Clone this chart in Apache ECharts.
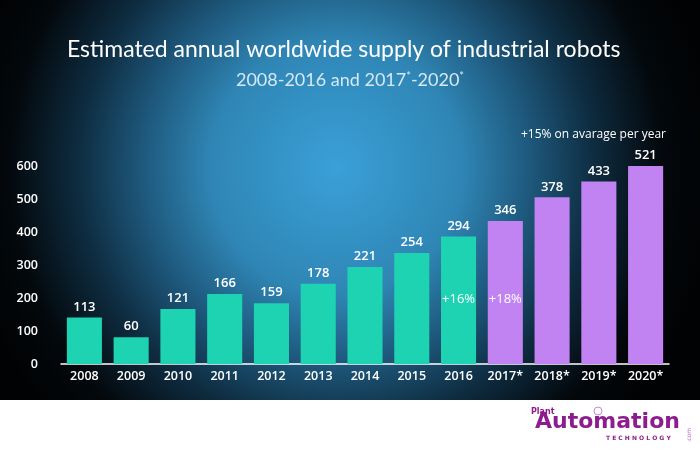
<!DOCTYPE html>
<html>
<head>
  <meta http-equiv="Content-Type" content="text/html; charset=utf-8"/>
  <title>Industrial robots supply</title>
  <script src="https://cdnjs.cloudflare.com/ajax/libs/echarts/6.0.0/echarts.min.js"></script>
</head>
<body style="margin:0;padding:0;background:#fff">
<div id="chart" style="width:700px;height:450px;"></div>
<script type="text/javascript">
// categories and values
var years = ['2008','2009','2010','2011','2012','2013','2014','2015','2016','2017*','2018*','2019*','2020*'];
// bar heights as drawn against the axis
var barHeights = [141, 81, 167, 212, 184, 243, 294, 336, 386, 433, 505, 553, 603];
// numbers printed above the bars (thousand units)
var labelValues = [113, 60, 121, 166, 159, 178, 221, 254, 294, 346, 378, 433, 521];
var yTicks = [0, 100, 200, 300, 400, 500, 600];
var growthNotes = [['2016', '+16%'], ['2017*', '+18%']];
var notesLevel = 197;
var firstForecast = 9;

var chart = echarts.init(document.getElementById('chart'));

var barData = [];
for (var i = 0; i < years.length; i++) {
  barData.push({
    value: barHeights[i],
    itemStyle: { color: i >= firstForecast ? '#c183f1' : '#1dd3b1' }
  });
}

var notePoints = [];
for (var j = 0; j < growthNotes.length; j++) {
  notePoints.push({ coord: [growthNotes[j][0], notesLevel], value: growthNotes[j][1] });
}

var option = {
  backgroundColor: '#ffffff',
  textStyle: { fontFamily: 'Open Sans' },
  title: [
    {
      text: 'Estimated annual worldwide supply of industrial robots',
      left: 62, top: 33,
      textStyle: { color: '#ffffff', fontSize: 23, fontWeight: 'normal', fontFamily: 'Lato' }
    },
    {
      text: '2008-2016 and 2017{s|*}-2020{s|*}',
      left: 'center', top: 66,
      textStyle: {
        color: '#d6e8f3', fontSize: 18, fontWeight: 'normal', fontFamily: 'Lato',
        rich: { s: { color: '#d6e8f3', fontSize: 11, fontFamily: 'Lato', padding: [0, 0, 8, 0] } }
      }
    },
    {
      text: '+15% on avarage per year',
      left: 516, top: 124,
      textStyle: { color: '#ffffff', fontSize: 12, fontWeight: 'normal' }
    }
  ],
  graphic: [
    {
      type: 'rect', z: -10, silent: true,
      shape: { x: 0, y: 0, width: 700, height: 400 },
      style: {
        fill: {
          type: 'radial', x: 0.48, y: 0.42, r: 0.95,
          colorStops: [
            { offset: 0, color: '#3aa0d8' },
            { offset: 0.33, color: '#2f86b5' },
            { offset: 0.5, color: '#1f5b80' },
            { offset: 0.68, color: '#0e2c40' },
            { offset: 0.86, color: '#03080c' },
            { offset: 1, color: '#010203' }
          ]
        }
      }
    },
    { type: 'text', left: 531, top: 408, style: { text: 'Plant', fill: '#8d1d8f', font: 'bold 8px "DejaVu Sans"' } },
    { type: 'text', left: 535, top: 411, style: { text: 'Automation', fill: '#8d1d8f', font: 'bold 22px "DejaVu Sans"' } },
    { type: 'circle', shape: { cx: 598, cy: 411, r: 4 }, style: { fill: 'none', stroke: '#c58bd0', lineWidth: 1 } },
    { type: 'text', left: 606, top: 435, style: { text: 'T E C H N O L O G Y', fill: '#8d1d8f', font: 'bold 6px "DejaVu Sans"' } },
    { type: 'text', left: 686, top: 428, rotation: Math.PI / 2, style: { text: '.com', fill: '#b06ab8', font: '6px "DejaVu Sans"' } }
  ],
  grid: { left: 61, right: 31, top: 166, bottom: 86 },
  xAxis: {
    type: 'category',
    data: years,
    axisLine: { lineStyle: { color: '#ffffff', width: 1.5 } },
    axisTick: { show: false },
    axisLabel: { color: '#ffffff', fontSize: 12.5, fontWeight: 600, margin: 6, interval: 0 }
  },
  yAxis: {
    type: 'value',
    min: yTicks[0],
    max: yTicks[yTicks.length - 1],
    interval: 100,
    splitLine: { show: false },
    axisLine: { show: false },
    axisTick: { show: false },
    axisLabel: { color: '#ffffff', fontSize: 12.5, fontWeight: 600, margin: 23 }
  },
  series: [
    {
      type: 'bar',
      barWidth: '75%',
      data: barData,
      label: {
        show: true, position: 'top', distance: 4,
        color: '#ffffff', fontSize: 13, fontWeight: 600,
        formatter: function (p) { return labelValues[p.dataIndex]; }
      },
      markPoint: {
        symbol: 'circle', symbolSize: 0,
        label: {
          show: true, position: 'inside',
          color: '#ffffff', fontSize: 13,
          formatter: function (p) { return p.value; }
        },
        data: notePoints
      }
    }
  ]
};

chart.setOption(option);
</script>
</body>
</html>
